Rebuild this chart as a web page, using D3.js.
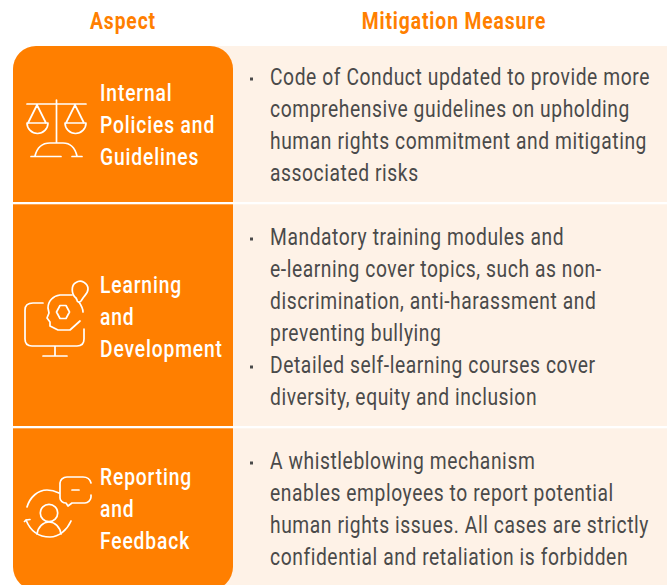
<!DOCTYPE html>
<html><head><meta charset="utf-8">
<script src="https://cdn.jsdelivr.net/npm/d3@7"></script>
<style>html,body{margin:0;padding:0;background:#fff}svg{display:block}</style>
</head><body><div id="c"></div>
<script>
const headers = ["Aspect", "Mitigation Measure"];
const aspects = ["Internal Policies and Guidelines", "Learning and Development", "Reporting and Feedback"];
const aspectLines = [["Internal","Policies and","Guidelines"],["Learning","and","Development"],["Reporting","and","Feedback"]];
const measures = [
  [["Code of Conduct updated to provide more","comprehensive guidelines on upholding","human rights commitment and mitigating","associated risks"]],
  [["Mandatory training modules and","e-learning cover topics, such as non-","discrimination, anti-harassment and","preventing bullying"],["Detailed self-learning courses cover","diversity, equity and inclusion"]],
  [["A whistleblowing mechanism","enables employees to report potential","human rights issues. All cases are strictly","confidential and retaliation is forbidden"]]
];
const W=670,H=585, ORANGE="#ff7f00", BEIGE="#fef2e7", INK="#4a4a4a";
const FONT="Roboto, sans-serif", FS=23.5, LH=32, SX=0.82;
const svg=d3.select("#c").append("svg").attr("width",W).attr("height",H);
const tx=(sel,x,yy,txt,o={})=>sel.append("text").attr("transform",`translate(${x},${yy}) scale(${o.sx||SX},1)`)
  .attr("font-family",FONT).attr("font-size",o.fs||FS).attr("font-weight",o.w||400).attr("fill",o.fill||INK)
  .attr("text-anchor",o.a||"start").attr("letter-spacing",o.ls===undefined?0.7:o.ls).text(txt);

// panels
const L=13,M=233,R=667,T=46,B=585,OB=590,r=23;
svg.append("rect").attr("x",M-30).attr("y",T).attr("width",R-M+30).attr("height",B-T).attr("fill",BEIGE);
svg.append("path").attr("fill",ORANGE).attr("d",
 `M${L+r},${T}H${M-r}A${r},${r} 0 0 1 ${M},${T+r}V${OB-r}A${r},${r} 0 0 1 ${M-r},${OB}H${L+r}A${r},${r} 0 0 1 ${L},${OB-r}V${T+r}A${r},${r} 0 0 1 ${L+r},${T}Z`);
[202,426].forEach(e=>svg.append("rect").attr("x",L).attr("y",e).attr("width",R-L).attr("height",2.3).attr("fill","#fff"));

// headers
tx(svg,123,29,headers[0],{a:"middle",w:700,fill:ORANGE,sx:0.82,ls:1.1});
tx(svg,454,29,headers[1],{a:"middle",w:700,fill:ORANGE,sx:0.82,ls:1.1});

// aspects
const labelY=[101,293,485];
aspects.forEach((a,i)=>aspectLines[i].forEach((t,j)=>tx(svg,100,labelY[i]+j*LH,t,{w:500,fill:"#fff",ls:1.05})));

// bullets & measures
const firstY=[85,245,469];
measures.forEach((row,i)=>{let n=0;row.forEach(item=>{
  svg.append("rect").attr("x",250).attr("y",firstY[i]+n*LH-7.5).attr("width",3).attr("height",3).attr("fill",INK);
  item.forEach(t=>{tx(svg,270,firstY[i]+n*LH,t);n++;});
});});

// icons
const ic=svg.append("g").attr("fill","none").attr("stroke","#fff").attr("stroke-width",1.7).attr("stroke-linecap","round").attr("stroke-linejoin","round");
// scales
ic.append("path").attr("d","M27,104H86M56.5,100V143M37,105L28,123M37,105L46,123M75,105L66,123M75,105L84,123M27,123H48A10.5,10.5 0 0 1 27,123M65,123H86A10.5,10.5 0 0 1 65,123M31,156.5H61M72,156.5H82M35,156C37,148 42,143 50,143H63C70,143 75,148 77,156");
// learning
ic.append("path").attr("d","M43,303H33Q25,303 25,310V339Q25,346 32,346H77Q84,346 84,339V329M55,346V356M43,356H67");
ic.append("path").attr("d","M72,295H60C53,296 48,301 48,308L49,313L47,318L50,322V326L58,330H70L80,321M83,312C83,308 81,305 79,302");
ic.append("path").attr("d","M60,305.5H66L69.5,312L66,318.5H60L56.5,312Z");
ic.append("path").attr("d","M76,298C71,294 71,285 76,282.5C81,279 88,283 88,289C88,293 85,295 83,298L81,301C79,303 77,302 77,300Z");
// reporting
ic.append("path").attr("d","M27,507C30,497 38,490 47,490C51,490 55,491 59,493M71,521C67,530 59,537 50,537C38,537 30,530 26,520M26,520L24.5,521.5M26,520L30,519.5");
ic.append("circle").attr("cx",49).attr("cy",513).attr("r",8.7);
ic.append("path").attr("d","M37,534C38,527 43,522 49,522C55,522 60,527 61,534");
ic.append("path").attr("d","M91,483C90,479 87,477 83,477H67C63,477 60,480 60,483V498C60,501 63,503 66,503L68,506L72,503H85C88,503 91,500 91,497V495M72,490H79");
</script></body></html>
